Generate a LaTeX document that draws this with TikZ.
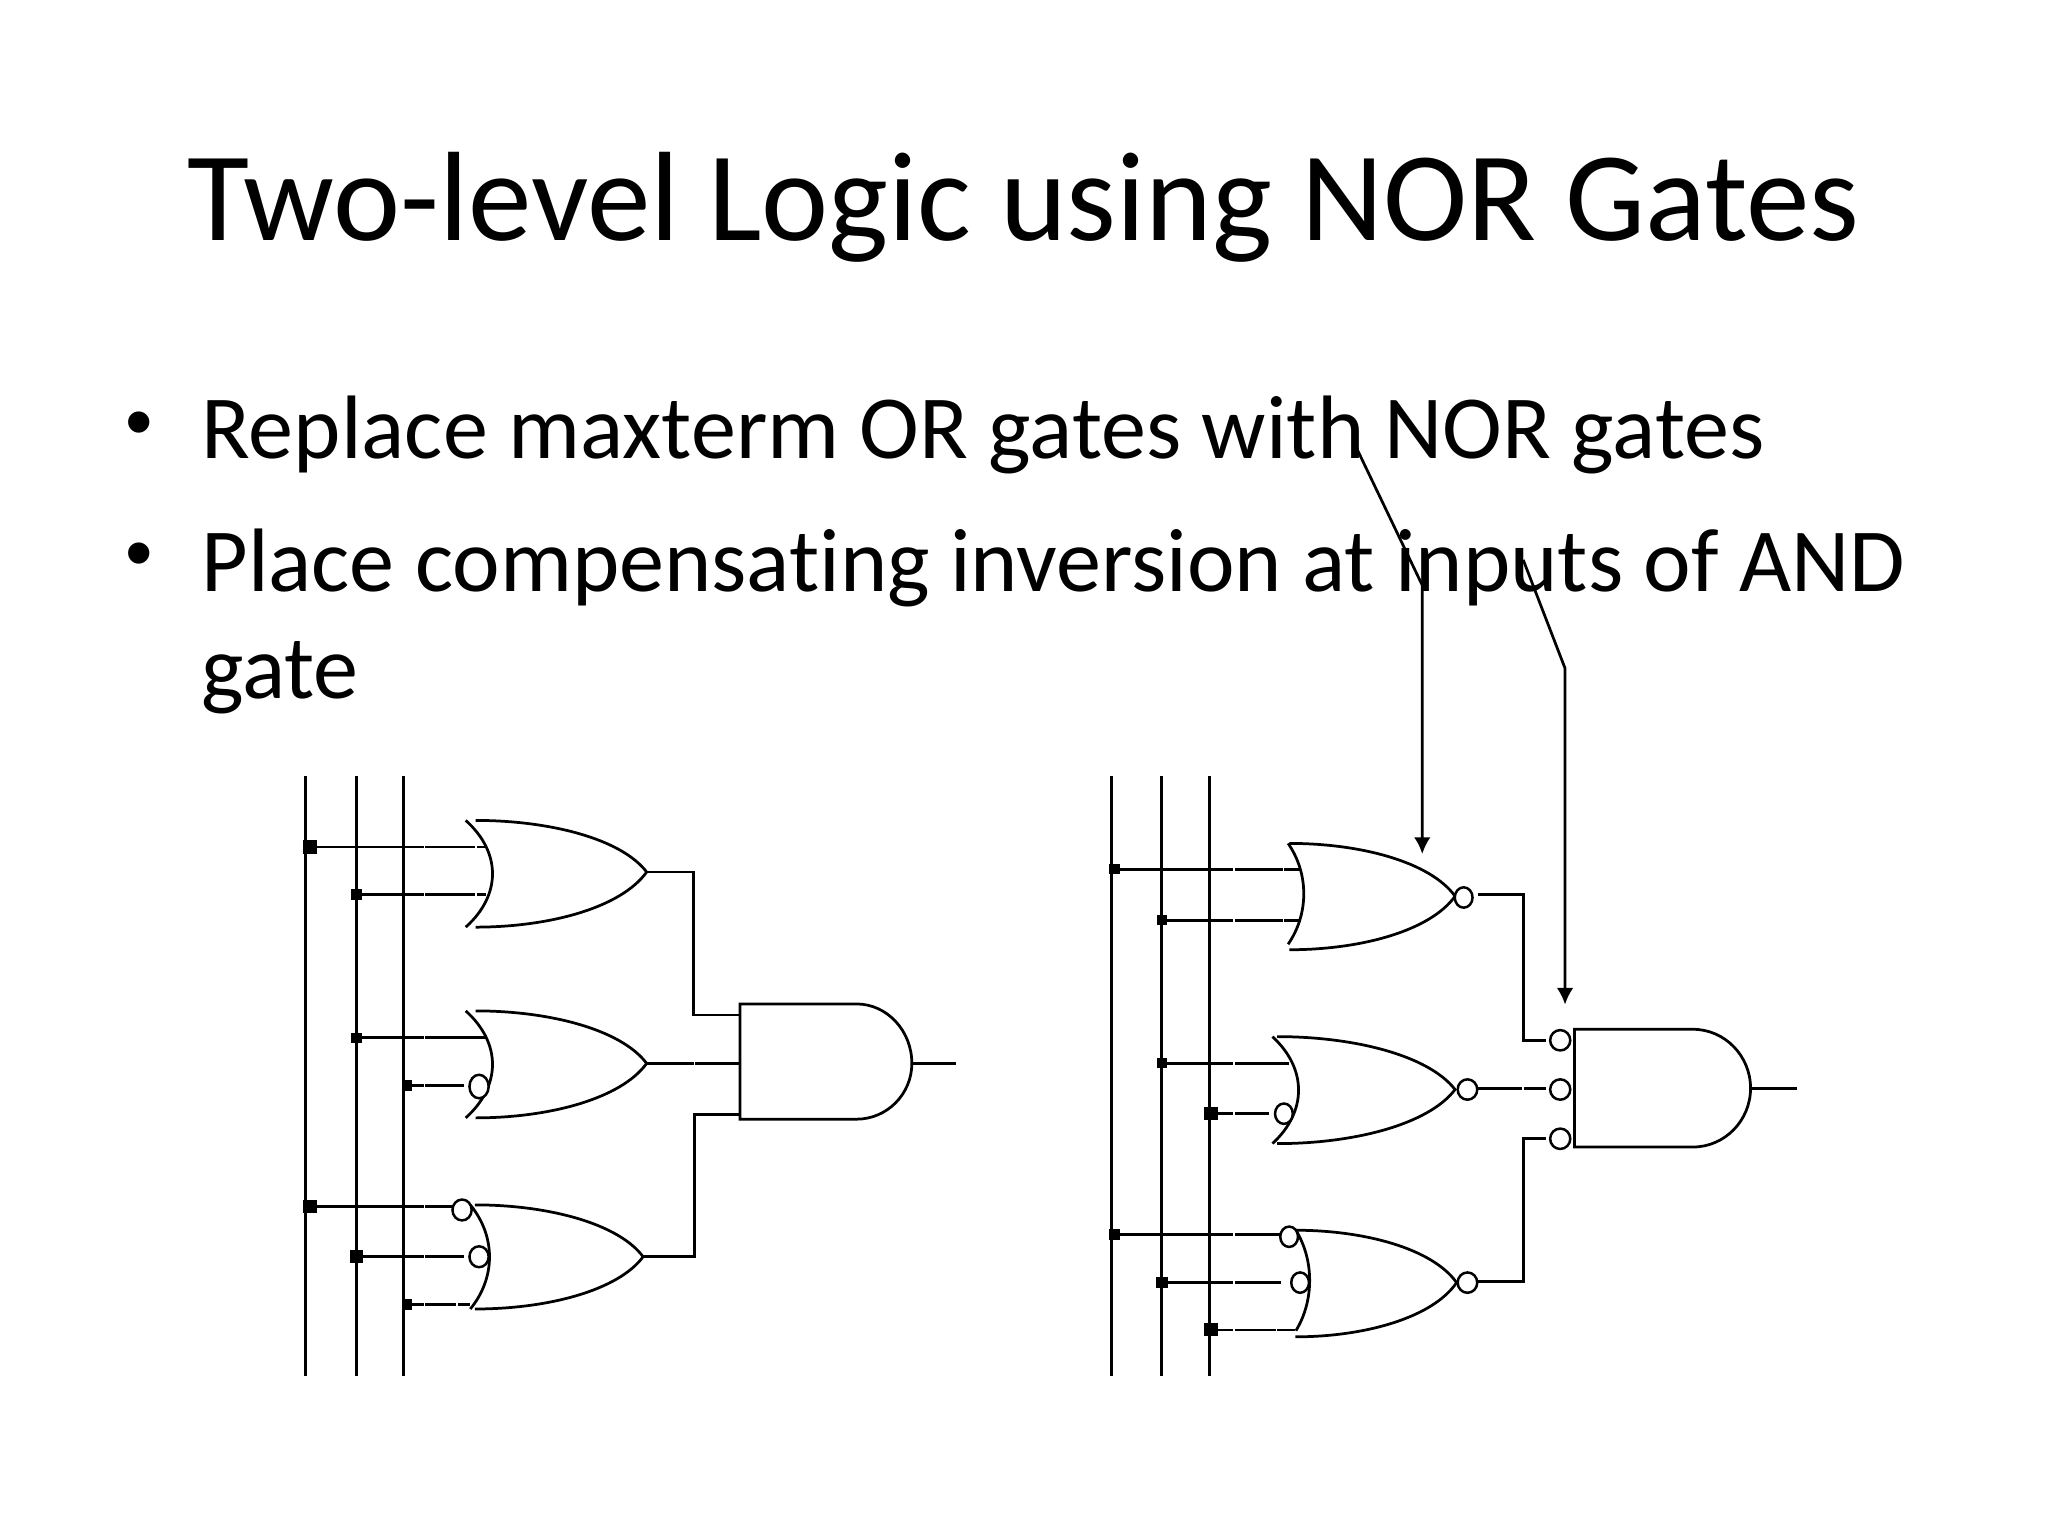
\documentclass[tikz,border=0pt]{standalone}
\usepackage{fontspec}
\setmainfont{Carlito}[Ligatures=NoCommon]
\newfontfamily\bulletfont{Liberation Sans}
\usetikzlibrary{shapes.geometric, arrows.meta}

\tikzset{
    wire/.style={line width=2.1pt},
    joint/.style={fill=black, inner sep=0pt},
    bubble/.style={draw, ellipse, fill=white, inner sep=0pt, line width=1.9pt, minimum width=#1pt, minimum height=15.6pt},
    bubble/.default=13.6,
    titletext/.style={anchor=base west, inner sep=0pt, font=\fontsize{97.3}{100}\selectfont},
    bodytext/.style={anchor=base west, inner sep=0pt, align=left, font=\fontsize{69}{82}\selectfont},
    dottext/.style={anchor=base, inner sep=0pt, font=\bulletfont\fontsize{60}{82}\selectfont},
}

\begin{document}
\begin{tikzpicture}[x=1pt, y=-1pt]
    \useasboundingbox (0,0) rectangle (1567.7,1175);

    \node[titletext] (title) at (143,184) {Two-level Logic using NOR Gates};
    \node[dottext] (dot1) at (106.4,343.5) {•};
    \node[bodytext] (line1) at (154,351) {Replace maxterm OR gates with NOR gates};
    \node[dottext] (dot2) at (106.4,443.5) {•};
    \node[bodytext, anchor=north west] (line2) at (154,404.5) {Place compensating inversion at inputs of AND\\gate};

    % input rails
    \foreach \n/\x/\top/\bot in {a/234/594/1053, b/273/594/1053, c/309/594/1053, d/851/594/1053, e/889/594/1053, f/926/594/1053} {
        \coordinate (\n0) at (\x,\top);
        \coordinate (\n1) at (\x,\bot);
        \draw[wire] (\n0) -- (\n1);
    }

    % or gate bodies
    \foreach \n/\bl/\al/\bulge/\tip/\top/\bot/\bb/\mid in {
        g1/356.5/364/377/495/628/709.7/709.7/667.5,
        g2/356.5/364/377/495/773.8/855.7/855.7/814,
        g3/360/363.5/374.7/492.3/922.3/1002/1002/962,
        n1/986/987/998/1113.8/645.6/727/722.8/686,
        n2/974/977.6/994/1113.8/793.5/875.4/875.4/834,
        n3/992/991.5/1002.5/1115/941.7/1023.3/1018.6/981.8} {
        \pgfmathsetmacro{\cx}{(8*\bulge-2*\bl)/6}
        \pgfmathsetmacro{\ca}{\al+0.43*(\tip-\al)}
        \pgfmathsetmacro{\cb}{\tip-0.15*(\tip-\al)}
        \draw[wire] (\bl,\top) .. controls (\cx,{\top+0.3*(\bb-\top)}) and (\cx,{\bb-0.3*(\bb-\top)}) .. (\bl,\bb);
        \draw[wire] (\al,\top) .. controls (\ca,\top) and (\cb,{\top+0.35*(\mid-\top)}) .. (\tip,\mid)
            .. controls (\cb,{\bot-0.35*(\bot-\mid)}) and (\ca,\bot) .. (\al,\bot);
        \coordinate (\n) at (\tip,\mid);
    }

    % and gate bodies
    \foreach \n/\lft/\flat/\tip/\top/\bot/\mid in {k/566.5/655.7/698/768.5/856.7/814, m/1205.3/1296/1340/787.9/878/833} {
        \draw[wire] (\lft,\top) -- (\flat,\top)
            .. controls ({\flat+0.55*(\tip-\flat)},\top) and (\tip,{\mid-0.55*(\mid-\top)}) .. (\tip,\mid)
            .. controls (\tip,{\mid+0.55*(\bot-\mid)}) and ({\flat+0.55*(\tip-\flat)},\bot) .. (\flat,\bot) -- (\lft,\bot) -- cycle;
        \coordinate (\n) at (\tip,\mid);
    }

    % inversion bubbles
    \node[bubble=14.7, minimum height=18pt] (b1) at (366.7,831.7) {};
    \node[bubble=14.7, minimum height=16pt] (b2) at (353.7,926.2) {};
    \node[bubble=14.7, minimum height=16pt] (b3) at (366.7,962) {};
    \node[bubble] (b4) at (1120.4,687) {};
    \node[bubble] (b5) at (982.8,852.5) {};
    \node[bubble=15] (b6) at (1123.3,834) {};
    \node[bubble] (b7) at (986.8,946.7) {};
    \node[bubble] (b8) at (995.2,981.8) {};
    \node[bubble=15] (b9) at (1123.3,981.8) {};
    \node[bubble=15.4] (c1) at (1194.3,796.3) {};
    \node[bubble=15.4] (c2) at (1194.3,834) {};
    \node[bubble=15.4] (c3) at (1194.3,871.7) {};

    % junctions and the wires into the gates
    \foreach \n/\x/\y/\sz/\ex in {
        1/237.5/648.4/10.5/372, 2/273/684.7/8/372,
        3/273/794.4/8/372, 4/311.4/831/8/355,
        5/237.5/923.6/10.5/347, 6/273/962/10/355, 7/311.4/998.6/8/359.5,
        8/853.2/665.3/8/996, 9/889.4/704.4/8/996,
        10/889.4/813.8/8/986.8, 11/927/852.3/10/971,
        12/853.2/944.9/8/980.6, 13/889.4/981.8/9/980.6, 14/927/1018/10/991.5} {
        \node[joint, minimum size=\sz pt] (j\n) at (\x,\y) {};
        \coordinate (e\n) at (\ex,\y);
        \draw[wire] (j\n) -- (e\n);
    }

    % wires to the and gates
    \coordinate (k1) at (565.5,777);
    \coordinate (k2) at (565.5,814);
    \coordinate (k3) at (565.5,853);
    \coordinate (k4) at (731.7,814);
    \coordinate (n1o) at (1131.4,684.7);
    \coordinate (n2o) at (1131,833);
    \coordinate (n3o) at (1131.4,981);
    \coordinate (m1) at (1375.5,833);
    \draw[wire] (g1) -- ++(36,0) |- (k1);
    \draw[wire] (g2) -- (g2 -| k2);
    \draw[wire] (g3) -- ++(39.2,0) |- (k3);
    \draw[wire] (k) -- (k4);
    \draw[wire, shorten >=2pt] (n1o) -- ++(34.6,0) |- (c1.west);
    \draw[wire, shorten >=2pt] (n2o) -- (n2o -| c2.west);
    \draw[wire, shorten >=2pt] (n3o) -- ++(34.6,0) |- (c3.west);
    \draw[wire] (m) -- (m1);

    % little breaks in the wires
    \foreach \x/\y in {325/648.4, 325/684.7, 325/794.4, 325/831, 325/923.6, 325/962, 325/998.6,
        364.5/648.4, 364.5/684.7, 350/998.6, 531.5/814,
        944.7/665.3, 944.7/704.4, 944.7/813.8, 944.7/852.3, 944.7/944.9, 944.7/981.8, 944.7/1018,
        982.4/665.3, 982.4/704.4, 977/1018, 1166/833} {
        \draw[white, line width=1.2pt] (\x,\y-2) -- (\x,\y+2);
    }

    % arrows from the text
    \coordinate (s1) at (1038.5,343.2);
    \coordinate (s2) at (1088.7,448);
    \coordinate (s3) at (1088.7,653.7);
    \coordinate (t1) at (1166,428.6);
    \coordinate (t2) at (1198,511.6);
    \coordinate (t3) at (1198,769);
    \draw[wire, -{Latex[length=12.8pt, width=12.8pt]}] (s1) -- (s2) -- (s3);
    \draw[wire, -{Latex[length=12.8pt, width=12.8pt]}] (t1) -- (t2) -- (t3);
\end{tikzpicture}
\end{document}
